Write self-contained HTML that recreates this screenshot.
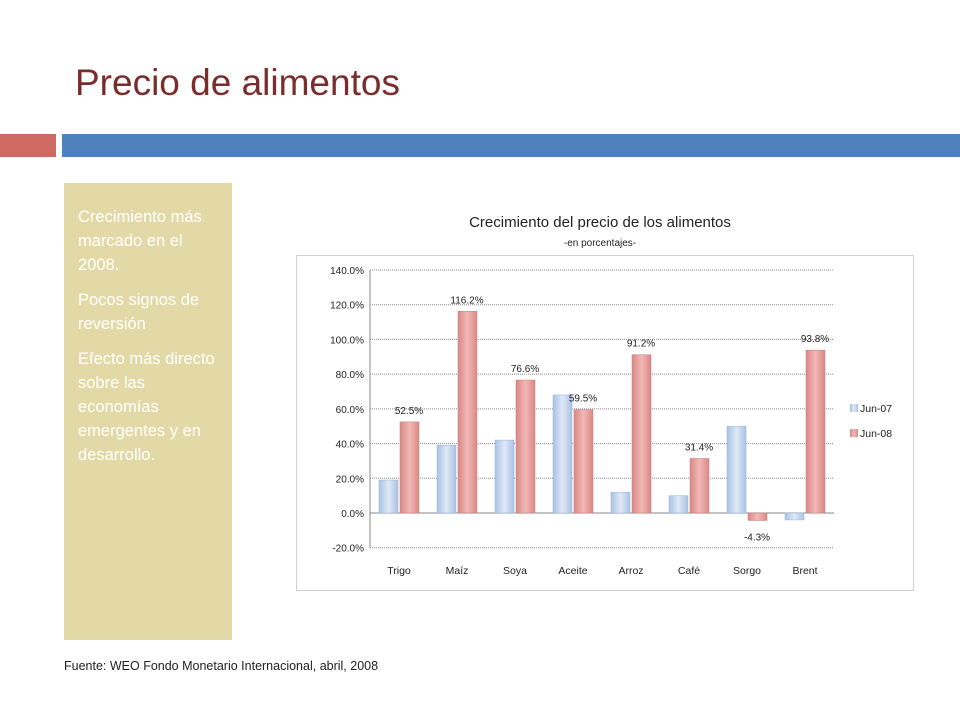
<!DOCTYPE html>
<html><head><meta charset="utf-8"><style>
body{margin:0;width:960px;height:720px;background:#fff;font-family:"Liberation Sans",sans-serif;position:relative;overflow:hidden}
.abs{position:absolute}
</style></head><body>
<div class="abs" style="left:75px;top:62px;font-size:37px;color:#7b2c2c">Precio de alimentos</div>
<div class="abs" style="left:0;top:134px;width:56px;height:23px;background:#cf6a63"></div>
<div class="abs" style="left:62px;top:134px;width:898px;height:23px;background:#4f81bd"></div>
<div class="abs" style="left:64px;top:183px;width:168px;height:457px;background:#e3d9a6;color:#fff;font-size:16.5px;line-height:24px">
<div style="padding:22px 12px 0 14px">
<p style="margin:0 0 11px">Crecimiento más marcado en el 2008.</p>
<p style="margin:0 0 11px">Pocos signos de reversión</p>
<p style="margin:0">Efecto más directo sobre las economías emergentes y en desarrollo.</p></div></div>
<div class="abs" style="left:64px;top:659px;font-size:12.5px;color:#222">Fuente: WEO Fondo Monetario Internacional, abril, 2008</div>
<div class="abs" style="left:300px;top:214px;width:600px;text-align:center;font-size:15px;color:#222">Crecimiento del precio de los alimentos</div>
<div class="abs" style="left:300px;top:238px;width:600px;text-align:center;font-size:10px;color:#222">-en porcentajes-</div>
<svg class="abs" style="left:0;top:0" width="960" height="720">
<defs>
<linearGradient id="gb" x1="0" x2="1"><stop offset="0" stop-color="#a9c2e4"/><stop offset="0.5" stop-color="#dfe9f6"/><stop offset="1" stop-color="#a9c2e4"/></linearGradient>
<linearGradient id="gr" x1="0" x2="1"><stop offset="0" stop-color="#d98885"/><stop offset="0.5" stop-color="#f2b8b5"/><stop offset="1" stop-color="#d98885"/></linearGradient>
</defs>
<rect x="296.5" y="255.5" width="617" height="335" fill="#fff" stroke="#d0d0d0"/>
<g id="grid"></g><g id="bars"></g><g id="labels"></g>
</svg>
<script>
const categories=["Trigo","Maíz","Soya","Aceite","Arroz","Café","Sorgo","Brent"];
const jun07=[19,39,42,68,12,10,50,-4];
const jun08=[52.5,116.2,76.6,59.5,91.2,31.4,-4.3,93.8];
const jun08Labels=["52.5%","116.2%","76.6%","59.5%","91.2%","31.4%","-4.3%","93.8%"];
const ticks=[140,120,100,80,60,40,20,0,-20];
const ns="http://www.w3.org/2000/svg";
const svg=document.querySelector('svg');
const X0=370,X1=834,yTop=270,yZero=513;
const y=v=>yZero-(v/140)*(yZero-yTop);
const cw=(X1-X0)/categories.length;
const cx=i=>X0+cw*(i+0.5);
function mk(t,a,p){const e=document.createElementNS(ns,t);for(const k in a)e.setAttribute(k,a[k]);(p||svg).appendChild(e);return e;}
ticks.forEach(t=>{
 const l=mk('line',{x1:X0,x2:X1,y1:y(t),y2:y(t),stroke:'#888','stroke-dasharray':'1,1'});
 
 
 const tx=mk('text',{x:X0-6,y:y(t)+4,'text-anchor':'end','font-size':10,fill:'#222','font-family':'Liberation Sans'});
 tx.textContent=t.toFixed(1)+'%';
 
 
});
mk('line',{x1:X0,x2:X0,y1:yTop,y2:y(-20),stroke:'#888'});
mk('line',{x1:X0,x2:X1,y1:yZero,y2:yZero,stroke:'#888'});
const bw=19;
categories.forEach((c,i)=>{
 const v1=jun07[i],v2=jun08[i];
 const b1=mk('rect',{x:cx(i)-bw-1,y:Math.min(y(v1),yZero),width:bw,height:Math.abs(y(v1)-yZero),fill:'url(#gb)',stroke:'#9ab3d6','stroke-width':0.5});
 
 
 const b2=mk('rect',{x:cx(i)+1,y:Math.min(y(v2),yZero),width:bw,height:Math.abs(y(v2)-yZero),fill:'url(#gr)',stroke:'#c97a77','stroke-width':0.5});
 
 
 const lb=mk('text',{x:cx(i)+10,y:v2>=0?y(v2)-8:y(v2)+20,'text-anchor':'middle','font-size':10,fill:'#222','font-family':'Liberation Sans'});
 lb.textContent=jun08Labels[i];
 
 
 const cl=mk('text',{x:cx(i),y:574,'text-anchor':'middle','font-size':10.5,fill:'#222','font-family':'Liberation Sans'});
 cl.textContent=c;
 
 
});
[["Jun-07","url(#gb)",409],["Jun-08","url(#gr)",434]].forEach(([n,f,yy])=>{
 const r=mk('rect',{x:850,y:yy-5,width:8,height:8,fill:f});
 
 
 const t=mk('text',{x:860,y:yy+3,'font-size':10.5,fill:'#222','font-family':'Liberation Sans'});
 t.textContent=n;
 
 
});
</script>
</body></html>
